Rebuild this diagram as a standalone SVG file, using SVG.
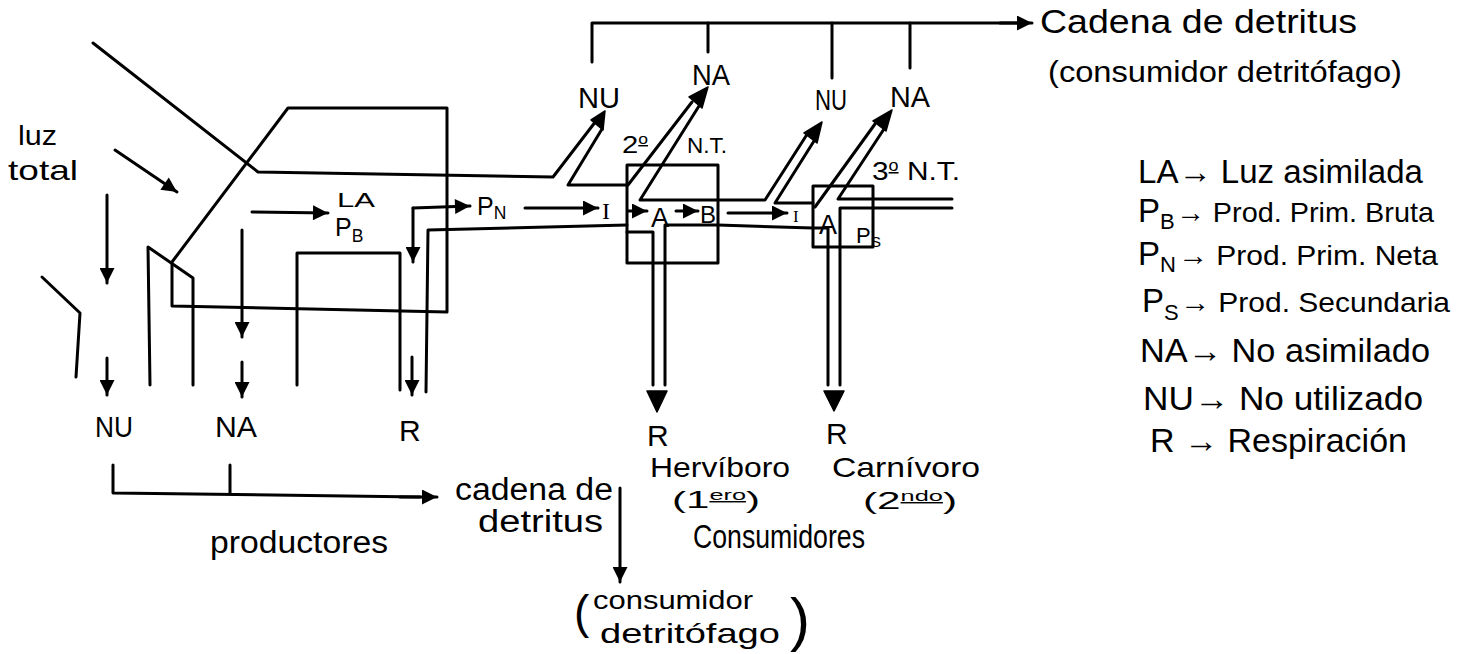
<svg xmlns="http://www.w3.org/2000/svg" width="1458" height="654" viewBox="0 0 1458 654">
<style>
.ln{fill:none;stroke:#000;stroke-width:3;stroke-linejoin:round;stroke-linecap:round}
.ar{fill:none;stroke:#000;stroke-width:3;stroke-linecap:round;marker-end:url(#ah)}
.hd{fill:#000;stroke:#000;stroke-width:1.5;stroke-linejoin:round}
text{font-family:"Liberation Sans",Arial,sans-serif;fill:#000}
.t{font-size:30px}
.lg{font-size:33px}
.lr{font-size:28px}
.ls{font-size:22px}
.sub{font-size:70%}
.sup{font-size:60%;text-decoration:underline}
.serif{font-family:"Liberation Serif",serif}
</style>
<defs>
<marker id="ah" viewBox="0 0 10 10" refX="10" refY="5" markerWidth="18" markerHeight="15" markerUnits="userSpaceOnUse" orient="auto">
<path d="M0,0 L10,5 L0,10 z" fill="#000"/>
</marker>
</defs>
<rect width="1458" height="654" fill="#fff"/>

<g id="productores">
<path class="ln" d="M42,277 L80,313 L76,377"/>
<path class="ln" d="M150,385 L148,247 L193,278 L193,385"/>
<path class="ln" d="M172,262 L288,108 L447,108 L447,312 L172,306 Z"/>
<path class="ln" d="M297,385 L297,253 L400,253 L400,390"/>
<path class="ln" d="M93,43 L258,172 L553,177 L596,121"/>
<path class="ln" d="M627,225 L428,230 L426,392"/>
<text x="18" y="145" font-size="28" textLength="39" lengthAdjust="spacingAndGlyphs">luz</text>
<text x="8" y="180" font-size="28" textLength="70" lengthAdjust="spacingAndGlyphs">total</text>
<text x="337" y="207" font-size="20" textLength="38" lengthAdjust="spacingAndGlyphs">LA</text>
<text x="335" y="236" font-size="25">P<tspan class="sub" dy="6">B</tspan></text>
<text x="477" y="215" font-size="25">P<tspan class="sub" dy="4">N</tspan></text>
<text class="t" x="95" y="437" textLength="38" lengthAdjust="spacingAndGlyphs">NU</text>
<text class="t" x="215" y="437" textLength="42" lengthAdjust="spacingAndGlyphs">NA</text>
<text x="399" y="441" font-size="30">R</text>
<text x="210" y="553" font-size="31" textLength="178" lengthAdjust="spacingAndGlyphs">productores</text>
</g>

<g id="herbivoro">
<rect class="ln" x="627" y="165" width="91" height="98"/>
<path class="ln" d="M602,129 L568,185 L628,185 L692,102"/>
<path class="ln" d="M699,106 L640,200 L765,200 L806,136"/>
<path class="ln" d="M627,232 L653,232 L653,385"/>
<path class="ln" d="M665,385 L665,225 L718,225 L813,228"/>
<text class="serif" x="602" y="219" font-size="24">I</text>
<text x="651" y="227" font-size="27">A</text>
<text x="700" y="223" font-size="24">B</text>
<text x="622" y="153" font-size="24" textLength="26" lengthAdjust="spacingAndGlyphs">2<tspan class="sup" dy="-9">o</tspan></text>
<text x="687" y="153" font-size="22" textLength="40" lengthAdjust="spacingAndGlyphs">N.T.</text>
<text class="t" x="578" y="108" textLength="42" lengthAdjust="spacingAndGlyphs">NU</text>
<text class="t" x="692" y="85" textLength="38" lengthAdjust="spacingAndGlyphs">NA</text>
<text x="647" y="446" font-size="30">R</text>
<text x="650" y="477" font-size="27" textLength="140" lengthAdjust="spacingAndGlyphs">Hervíboro</text>
<text x="672" y="508" font-size="24" textLength="88" lengthAdjust="spacingAndGlyphs">(1<tspan class="sup" dy="-8">ero</tspan><tspan dy="8">)</tspan></text>
</g>

<g id="carnivoro">
<rect class="ln" x="813" y="186" width="60" height="61"/>
<path class="ln" d="M814,141 L775,203 L813,203"/>
<path class="ln" d="M815,207 L875,124"/>
<path class="ln" d="M884,129 L838,199 L952,199"/>
<path class="ln" d="M840,385 L840,208 L952,208"/>
<path class="ln" d="M813,228 L828,228 L828,385"/>
<text class="serif" x="793" y="222" font-size="17">I</text>
<text x="819" y="234" font-size="27">A</text>
<text x="856" y="243" font-size="22">P<tspan class="sub" dy="4">S</tspan></text>
<text class="t" x="815" y="110" textLength="32" lengthAdjust="spacingAndGlyphs">NU</text>
<text class="t" x="890" y="107" textLength="40" lengthAdjust="spacingAndGlyphs">NA</text>
<text x="872" y="180" font-size="26" textLength="88" lengthAdjust="spacingAndGlyphs">3<tspan class="sup" dy="-9">o</tspan><tspan dy="9"> N.T.</tspan></text>
<text x="826" y="444" font-size="30">R</text>
<text x="832" y="477" font-size="28" textLength="148" lengthAdjust="spacingAndGlyphs">Carnívoro</text>
<text x="863" y="509" font-size="24" textLength="94" lengthAdjust="spacingAndGlyphs">(2<tspan class="sup" dy="-8">ndo</tspan><tspan dy="8">)</tspan></text>
<text x="693" y="548" font-size="34" textLength="172" lengthAdjust="spacingAndGlyphs">Consumidores</text>
</g>

<g id="detritos-superior">
<text x="1040" y="33" font-size="33" textLength="317" lengthAdjust="spacingAndGlyphs">Cadena de detritus</text>
<text x="1048" y="82" font-size="30" textLength="354" lengthAdjust="spacingAndGlyphs">(consumidor detritófago)</text>
</g>

<g id="detritos-inferior">
<text x="455" y="500" font-size="31" textLength="158" lengthAdjust="spacingAndGlyphs">cadena de</text>
<text x="478" y="532" font-size="31" textLength="125" lengthAdjust="spacingAndGlyphs">detritus</text>
<text x="574" y="628" font-size="46">(</text>
<text x="593" y="609" font-size="26" textLength="160" lengthAdjust="spacingAndGlyphs">consumidor</text>
<text x="600" y="643" font-size="28" textLength="180" lengthAdjust="spacingAndGlyphs">detritófago</text>
<text x="790" y="640" font-size="60">)</text>
</g>

<g id="leyenda">
<text class="lg" x="1138" y="183" textLength="285" lengthAdjust="spacingAndGlyphs">LA→ Luz asimilada</text>
<text class="lg" x="1138" y="222">P</text>
<text class="ls" x="1160" y="229">B</text>
<text class="lr" x="1176" y="222" textLength="258" lengthAdjust="spacingAndGlyphs">→ Prod. Prim. Bruta</text>
<text class="lg" x="1138" y="265">P</text>
<text class="ls" x="1160" y="272">N</text>
<text class="lr" x="1178" y="265" textLength="260" lengthAdjust="spacingAndGlyphs">→ Prod. Prim. Neta</text>
<text class="lg" x="1142" y="312">P</text>
<text class="ls" x="1164" y="320">S</text>
<text class="lr" x="1180" y="312" textLength="270" lengthAdjust="spacingAndGlyphs">→ Prod. Secundaria</text>
<text class="lg" x="1140" y="362" textLength="290" lengthAdjust="spacingAndGlyphs">NA→ No asimilado</text>
<text class="lg" x="1143" y="410" textLength="280" lengthAdjust="spacingAndGlyphs">NU→ No utilizado</text>
<text class="lg" x="1150" y="452" textLength="257" lengthAdjust="spacingAndGlyphs">R  → Respiración</text>
</g>

<g id="conectores">
<path class="ar" d="M115,150 L177,192"/>
<path class="ar" d="M107,195 L107,283"/>
<path class="ar" d="M107,358 L107,395"/>
<path class="ar" d="M242,230 L242,337"/>
<path class="ar" d="M242,362 L242,397"/>
<path class="ar" d="M252,212 L328,213"/>
<path class="ar" d="M413,208 L413,262"/>
<path class="ar" d="M413,208 L470,206"/>
<path class="ar" d="M412,357 L412,395"/>
<path class="ar" d="M525,208 L598,208"/>
<path class="ar" d="M628,211 L647,211"/>
<path class="ar" d="M676,211 L698,211"/>
<path class="ar" d="M728,213 L787,213"/>
<path class="ln" d="M592,62 L592,23 L1018,23"/>
<path class="ar" d="M1000,23 L1032,23"/>
<path class="ln" d="M708,23 L708,52 M832,23 L832,78 M910,23 L910,68"/>
<path class="ln" d="M113,465 L113,493 L420,497"/>
<path class="ar" d="M400,497 L437,497"/>
<path class="ln" d="M230,465 L230,493"/>
<path class="ar" d="M620,488 L620,582"/>
<polygon class="hd" points="605,111 591,120 603,130"/>
<polygon class="hd" points="708,87 689,97 702,108"/>
<polygon class="hd" points="822,122 804,133 817,143"/>
<polygon class="hd" points="892,110 873,121 886,131"/>
<polygon class="hd" points="647,391 667,391 657,412"/>
<polygon class="hd" points="824,391 844,391 834,411"/>
</g>
</svg>
